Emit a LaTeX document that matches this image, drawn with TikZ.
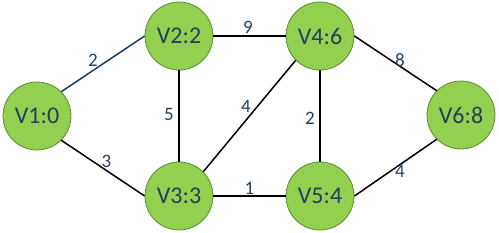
\documentclass[tikz,border=0pt]{standalone}
\usepackage{fontspec}
\setmainfont{Carlito}
\definecolor{nodefill}{HTML}{92D050}
\definecolor{nodeline}{HTML}{5E8A30}
\definecolor{txt}{HTML}{243F60}
\definecolor{blueedge}{HTML}{1F3A5F}
\begin{document}
\begin{tikzpicture}[x=1pt,y=-1pt,
  vert/.style={circle, minimum size=68pt, inner sep=0pt, fill=nodefill, draw=nodeline, line width=0.8pt, text=txt, font=\fontsize{24}{26}\selectfont},
  edge/.style={draw=black, line width=1.5pt},
  lbl/.style={text=txt, font=\fontsize{19}{21}\selectfont, inner sep=0pt, midway}]
\useasboundingbox (0,0) rectangle (499,233);
\node[vert] (v1) at (37,116) {V1:0};
\node[vert] (v2) at (179,36) {V2:2};
\node[vert] (v3) at (179,196) {V3:3};
\node[vert] (v4) at (320,36) {V4:6};
\node[vert] (v5) at (320,196) {V5:4};
\node[vert] (v6) at (461,115) {V6:8};
\draw[edge, draw=blueedge] (v1.north east) -- node[lbl, xshift=-10pt, yshift=4pt] {2} (v2.west);
\draw[edge] (v1.south east) -- node[lbl, xshift=3.5pt, yshift=7pt] {3} (v3.west);
\draw[edge] (v2.south) -- node[lbl, xshift=-10pt, yshift=2pt] {5} (v3.north);
\draw[edge] (v2.east) -- node[lbl, xshift=-1.5pt, yshift=9pt] {9} (v4.west);
\draw[edge] (v3.north east) -- node[lbl, xshift=-3.5pt, yshift=10pt] {4} (v4.south west);
\draw[edge] (v3.east) -- node[lbl, xshift=0pt, yshift=8pt] {1} (v5.west);
\draw[edge] (v4.south) -- node[lbl, xshift=-10pt, yshift=-2pt] {2} (v5.north);
\draw[edge] (v4.east) -- node[lbl, xshift=4.5pt, yshift=3.5pt] {8} (v6.north west);
\draw[edge] (v5.east) -- node[lbl, xshift=4.5pt, yshift=-4pt] {4} (v6.south west);
\end{tikzpicture}
\end{document}
